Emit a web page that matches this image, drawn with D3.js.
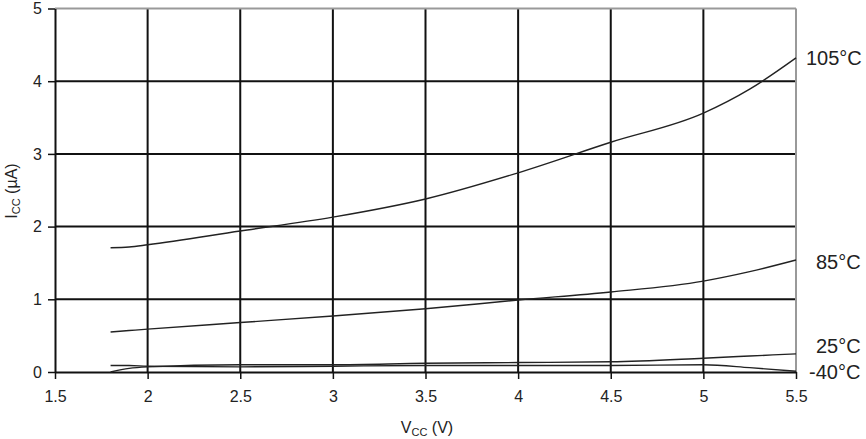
<!DOCTYPE html>
<html><head><meta charset="utf-8">
<script src="https://cdn.jsdelivr.net/npm/d3@7"></script>
<style>body{margin:0;background:#fff}svg{display:block;font-family:"Liberation Sans",Arial,sans-serif}</style>
</head><body><svg id="c" width="866" height="439"></svg>
<script>
const vcc = [1.8, 1.9, 2.0, 2.5, 3.0, 3.5, 4.0, 4.5, 5.0, 5.25, 5.5];
const icc105 = [1.71, 1.72, 1.75, 1.94, 2.13, 2.38, 2.74, 3.16, 3.56, 3.89, 4.32];
const icc85 = [0.55, 0.57, 0.59, 0.68, 0.77, 0.87, 0.99, 1.10, 1.25, 1.38, 1.54];
const icc25 = [0.0, 0.05, 0.07, 0.10, 0.10, 0.12, 0.13, 0.14, 0.19, 0.22, 0.25];
const iccM40 = [0.09, 0.09, 0.08, 0.07, 0.08, 0.09, 0.09, 0.09, 0.10, 0.06, 0.01];
const seriesNames = ["105°C", "85°C", "25°C", "-40°C"];
const xTicks = [1.5, 2, 2.5, 3, 3.5, 4, 4.5, 5, 5.5];
const yTicks = [0, 1, 2, 3, 4, 5];

const svg = d3.select("#c");
const L = 55, R = 796, T = 8.5, B = 372;
const x = d3.scaleLinear().domain([1.5, 5.5]).range([L, R]);
const y = d3.scaleLinear().domain([0, 5]).range([B, T]);

// grid
svg.append("g").selectAll("line").data(xTicks.filter(d => d > 1.5 && d < 5.5)).join("line")
  .attr("x1", d => x(d)).attr("x2", d => x(d)).attr("y1", T).attr("y2", B)
  .attr("stroke", "#111").attr("stroke-width", 2);
svg.append("g").selectAll("line").data(yTicks.filter(d => d > 0 && d < 5)).join("line")
  .attr("x1", L).attr("x2", R).attr("y1", d => y(d)).attr("y2", d => y(d))
  .attr("stroke", "#111").attr("stroke-width", 2);
// top/right border
svg.append("line").attr("x1", L).attr("x2", R).attr("y1", T).attr("y2", T).attr("stroke", "#999").attr("stroke-width", 2);
svg.append("line").attr("x1", R).attr("x2", R).attr("y1", T).attr("y2", B).attr("stroke", "#999").attr("stroke-width", 2);

// axes
const xa = svg.append("g").attr("transform", `translate(0,${B})`)
  .call(d3.axisBottom(x).tickValues(xTicks).tickFormat(d3.format("")).tickSizeInner(7).tickSizeOuter(0).tickPadding(12));
const ya = svg.append("g").attr("transform", `translate(${L},0)`)
  .call(d3.axisLeft(y).tickValues(yTicks).tickFormat(d3.format("d")).tickSizeInner(7).tickSizeOuter(0).tickPadding(6));
[xa, ya].forEach(g => {
  g.select(".domain").attr("stroke", "#111").attr("stroke-width", 2);
  g.selectAll(".tick line").attr("stroke", "#111").attr("stroke-width", 1.5);
  g.selectAll(".tick text").attr("font-size", 16).attr("fill", "#222").attr("font-family", "Liberation Sans, Arial, sans-serif");
});

// curves
const line = d3.line().x((d, i) => x(vcc[i])).y(d => y(d)).curve(d3.curveMonotoneX);
const data = [icc105, icc85, icc25, iccM40];
svg.append("g").selectAll("path").data(data).join("path")
  .attr("d", line).attr("fill", "none").attr("stroke", "#222").attr("stroke-width", 1.4);

// series labels
const labelPos = [[806, icc105[10]], [816, icc85[10] - 0.03], [816, icc25[10] + 0.11], [809, iccM40[10] - 0.01]];
svg.append("g").selectAll("text").data(seriesNames).join("text")
  .attr("x", (d, i) => labelPos[i][0]).attr("y", (d, i) => y(labelPos[i][1]) + 7)
  .attr("font-size", 20).attr("fill", "#222").text(d => d);

// axis titles
const xt = svg.append("text").attr("x", 427).attr("y", 433).attr("text-anchor", "middle").attr("font-size", 16).attr("fill", "#222");
xt.append("tspan").text("V");
xt.append("tspan").attr("font-size", 11).attr("dy", 3).text("CC");
xt.append("tspan").attr("dy", -3).text(" (V)");
const yt = svg.append("text").attr("transform", "translate(17,191) rotate(-90)").attr("text-anchor", "middle").attr("font-size", 16).attr("fill", "#222");
yt.append("tspan").text("I");
yt.append("tspan").attr("font-size", 11).attr("dy", 3).text("CC");
yt.append("tspan").attr("dy", -3).text(" (µA)");
</script></body></html>
